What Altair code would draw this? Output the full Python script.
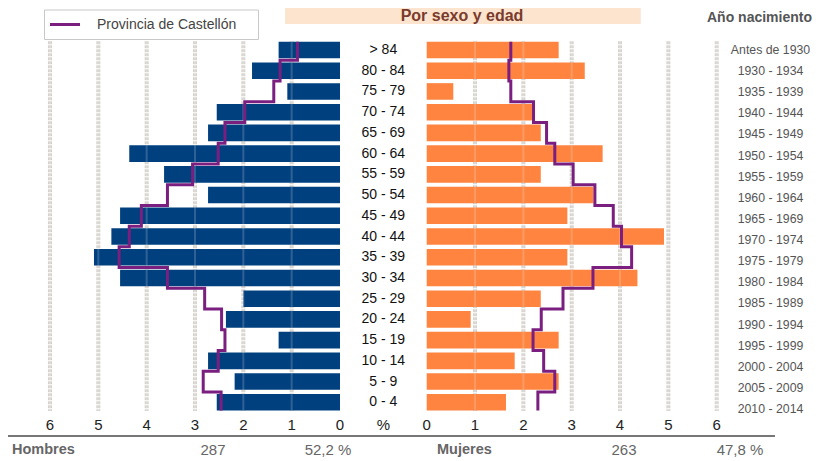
import altair as alt
import pandas as pd

# ---------------- data ----------------
ages = ["> 84", "80 - 84", "75 - 79", "70 - 74", "65 - 69", "60 - 64", "55 - 59",
        "50 - 54", "45 - 49", "40 - 44", "35 - 39", "30 - 34", "25 - 29", "20 - 24",
        "15 - 19", "10 - 14", "5 - 9", "0 - 4"]
birth = ["Antes de 1930", "1930 - 1934", "1935 - 1939", "1940 - 1944", "1945 - 1949",
         "1950 - 1954", "1955 - 1959", "1960 - 1964", "1965 - 1969", "1970 - 1974",
         "1975 - 1979", "1980 - 1984", "1985 - 1989", "1990 - 1994", "1995 - 1999",
         "2000 - 2004", "2005 - 2009", "2010 - 2014"]
# % of total population (municipality)
hombres = [1.27, 1.82, 1.09, 2.55, 2.73, 4.36, 3.64, 2.73, 4.55, 4.73, 5.09, 4.55,
           2.00, 2.36, 1.27, 2.73, 2.18, 2.55]
mujeres = [2.73, 3.27, 0.55, 2.18, 2.36, 3.64, 2.36, 3.45, 2.91, 4.91, 2.91, 4.36,
           2.36, 0.91, 2.73, 1.82, 2.73, 1.64]
# Provincia de Castellón
prov_h = [0.88, 1.24, 1.37, 1.97, 2.38, 2.52, 3.05, 3.57, 4.11, 4.36, 4.57, 3.57,
          2.80, 2.45, 2.38, 2.52, 2.83, 2.46]
prov_m = [1.74, 1.70, 1.74, 2.21, 2.48, 2.65, 3.03, 3.48, 3.86, 4.03, 4.24, 3.44,
          2.82, 2.37, 2.20, 2.42, 2.65, 2.30]
ticks = [0, 1, 2, 3, 4, 5, 6]
sexos = ["Hombres", "Mujeres"]
totales = ["287", "263"]
shares = ["52,2 %", "47,8 %"]
legend_label = "Provincia de Castellón"
title_text = "Por sexo y edad"
birth_title = "Año nacimiento"

# ---------------- style ----------------
GAP = 1.794          # width of the central age-label column, in % units
BLUE = "#01407f"
ORANGE = "#fe8440"
PURPLE = "#7a1f80"
GRID = "#d6d2ce"
FONT = "Liberation Sans"

xs = alt.Scale(domain=[-6, 6 + GAP], range=[42, 708.7], nice=False, zero=False)
ys = alt.Scale(domain=[0, 17], range=[42, 394.3], nice=False, zero=False)

rows = pd.DataFrame({"k": list(range(len(ages))), "age": ages, "birth": birth,
                     "h": hombres, "m": mujeres})

# grid
grid_df = pd.DataFrame({"t": ticks[1:]})
grid_base = alt.Chart(grid_df).transform_fold(["l", "r"], as_=["side", "dummy"]).transform_calculate(
    pos="datum.side == 'l' ? -datum.t : %f + datum.t" % GAP, y0="-0.42", y1="17.42")
grid = grid_base.mark_rule(color=GRID, strokeWidth=4, strokeDash=[3, 1]).encode(
    x=alt.X("pos:Q", scale=xs, axis=None),
    y=alt.Y("y0:Q", scale=ys, axis=None), y2="y1:Q")
grid_over = grid_base.mark_rule(color="#ffffff", strokeWidth=2, opacity=0.18).encode(
    x=alt.X("pos:Q", scale=xs, axis=None),
    y=alt.Y("y0:Q", scale=ys, axis=None), y2="y1:Q")

male = alt.Chart(rows).transform_calculate(
    xl="-datum.h", xr="0", yt="datum.k - 0.4", yb="datum.k + 0.4").mark_rect(color=BLUE).encode(
    x=alt.X("xl:Q", scale=xs, axis=None), x2="xr:Q",
    y=alt.Y("yt:Q", scale=ys, axis=None), y2="yb:Q")
female = alt.Chart(rows).transform_calculate(
    xl="%f" % GAP, xr="%f + datum.m" % GAP, yt="datum.k - 0.4", yb="datum.k + 0.4").mark_rect(color=ORANGE).encode(
    x=alt.X("xl:Q", scale=xs, axis=None), x2="xr:Q",
    y=alt.Y("yt:Q", scale=ys, axis=None), y2="yb:Q")

# step lines for the province
def step_points(vals, sign, offset):
    pts = []
    n = len(vals)
    for k, v in enumerate(vals):
        top = k - 0.5 if k > 0 else k - 0.4
        bot = k + 0.5 if k < n - 1 else k + 0.4
        pts.append({"i": 2 * k, "x": offset + sign * v, "y": top})
        pts.append({"i": 2 * k + 1, "x": offset + sign * v, "y": bot})
    return pd.DataFrame(pts)

line_l = alt.Chart(step_points(prov_h, -1, 0)).mark_line(color=PURPLE, strokeWidth=3).encode(
    x=alt.X("x:Q", scale=xs, axis=None), y=alt.Y("y:Q", scale=ys, axis=None), order="i:Q")
line_r = alt.Chart(step_points(prov_m, 1, GAP)).mark_line(color=PURPLE, strokeWidth=3).encode(
    x=alt.X("x:Q", scale=xs, axis=None), y=alt.Y("y:Q", scale=ys, axis=None), order="i:Q")

age_text = alt.Chart(rows).transform_calculate(cx="%f" % (GAP / 2)).mark_text(
    font=FONT, fontSize=14, color="#111111", baseline="middle").encode(
    x=alt.X("cx:Q", scale=xs, axis=None), y=alt.Y("k:Q", scale=ys, axis=None), text="age:N")
birth_text = alt.Chart(rows).transform_calculate(kb="datum.k * 1.019").mark_text(
    font=FONT, fontSize=12.3, color="#555555", baseline="middle").encode(
    x=alt.value(762.5), y=alt.Y("kb:Q", scale=ys, axis=None), text="birth:N")

tick_df = pd.DataFrame({"t": ticks})
tick_text = alt.Chart(tick_df).transform_fold(["l", "r"], as_=["side", "dummy"]).transform_calculate(
    pos="datum.side == 'l' ? -datum.t : %f + datum.t" % GAP, lab="'' + datum.t").mark_text(
    font=FONT, fontSize=15, color="#222222", baseline="middle").encode(
    x=alt.X("pos:Q", scale=xs, axis=None), y=alt.value(417), text="lab:N")
pct_text = alt.Chart(pd.DataFrame({"s": ["%"]})).transform_calculate(cx="%f" % (GAP / 2)).mark_text(
    font=FONT, fontSize=15, color="#222222", baseline="middle").encode(
    x=alt.X("cx:Q", scale=xs, axis=None), y=alt.value(417), text="s:N")

one = pd.DataFrame({"a": [0]})
bottom_rule = alt.Chart(one).mark_rule(color="#777777", strokeWidth=2).encode(
    x=alt.value(0), x2=alt.value(767), y=alt.value(428))

foot = pd.DataFrame({"sexo": sexos, "tot": totales, "sh": shares,
                     "xs": [4, 429], "xt": [205, 616], "xp": [320, 732]})
foot_sex = alt.Chart(foot).mark_text(font=FONT, fontSize=14.5, fontWeight="bold", color="#666666",
                                     align="left", baseline="middle").encode(
    x=alt.X("xs:Q", scale=None), y=alt.value(442), text="sexo:N")
foot_tot = alt.Chart(foot).mark_text(font=FONT, fontSize=15, color="#666666", baseline="middle").encode(
    x=alt.X("xt:Q", scale=None), y=alt.value(442), text="tot:N")
foot_sh = alt.Chart(foot).mark_text(font=FONT, fontSize=15, color="#666666", baseline="middle").encode(
    x=alt.X("xp:Q", scale=None), y=alt.value(442), text="sh:N")

legend_box = alt.Chart(one).mark_rect(fill="white", stroke="#c8c8c8", strokeWidth=1).encode(
    x=alt.value(36.5), x2=alt.value(250.5), y=alt.value(2), y2=alt.value(31.5))
legend_line = alt.Chart(one).mark_rule(color=PURPLE, strokeWidth=3).encode(
    x=alt.value(42), x2=alt.value(72), y=alt.value(16.5))
legend_text = alt.Chart(pd.DataFrame({"s": [legend_label]})).mark_text(
    font=FONT, fontSize=14, color="#444444", align="left", baseline="middle").encode(
    x=alt.value(89), y=alt.value(16.5), text="s:N")

title_box = alt.Chart(one).mark_rect(fill="#fde4ce").encode(
    x=alt.value(277), x2=alt.value(632.7), y=alt.value(0), y2=alt.value(16))
title_txt = alt.Chart(pd.DataFrame({"s": [title_text]})).mark_text(
    font=FONT, fontSize=16, fontWeight="bold", color="#7a3b2c", baseline="alphabetic").encode(
    x=alt.value(454), y=alt.value(12.5), text="s:N")
birth_title_txt = alt.Chart(pd.DataFrame({"s": [birth_title]})).mark_text(
    font=FONT, fontSize=14, fontWeight="bold", color="#555555", baseline="alphabetic",
    align="right").encode(
    x=alt.value(804), y=alt.value(13.5), text="s:N")

chart = alt.layer(
    grid, male, female, grid_over, line_l, line_r, age_text, birth_text, tick_text, pct_text,
    bottom_rule, foot_sex, foot_tot, foot_sh, legend_box, legend_line, legend_text,
    title_box, title_txt, birth_title_txt
).properties(
    width=805, height=453, autosize=alt.AutoSizeParams(type="none"), padding=0
).configure_view(stroke=None)

chart.save("out.html", embed_options={"renderer": "svg", "actions": False})
